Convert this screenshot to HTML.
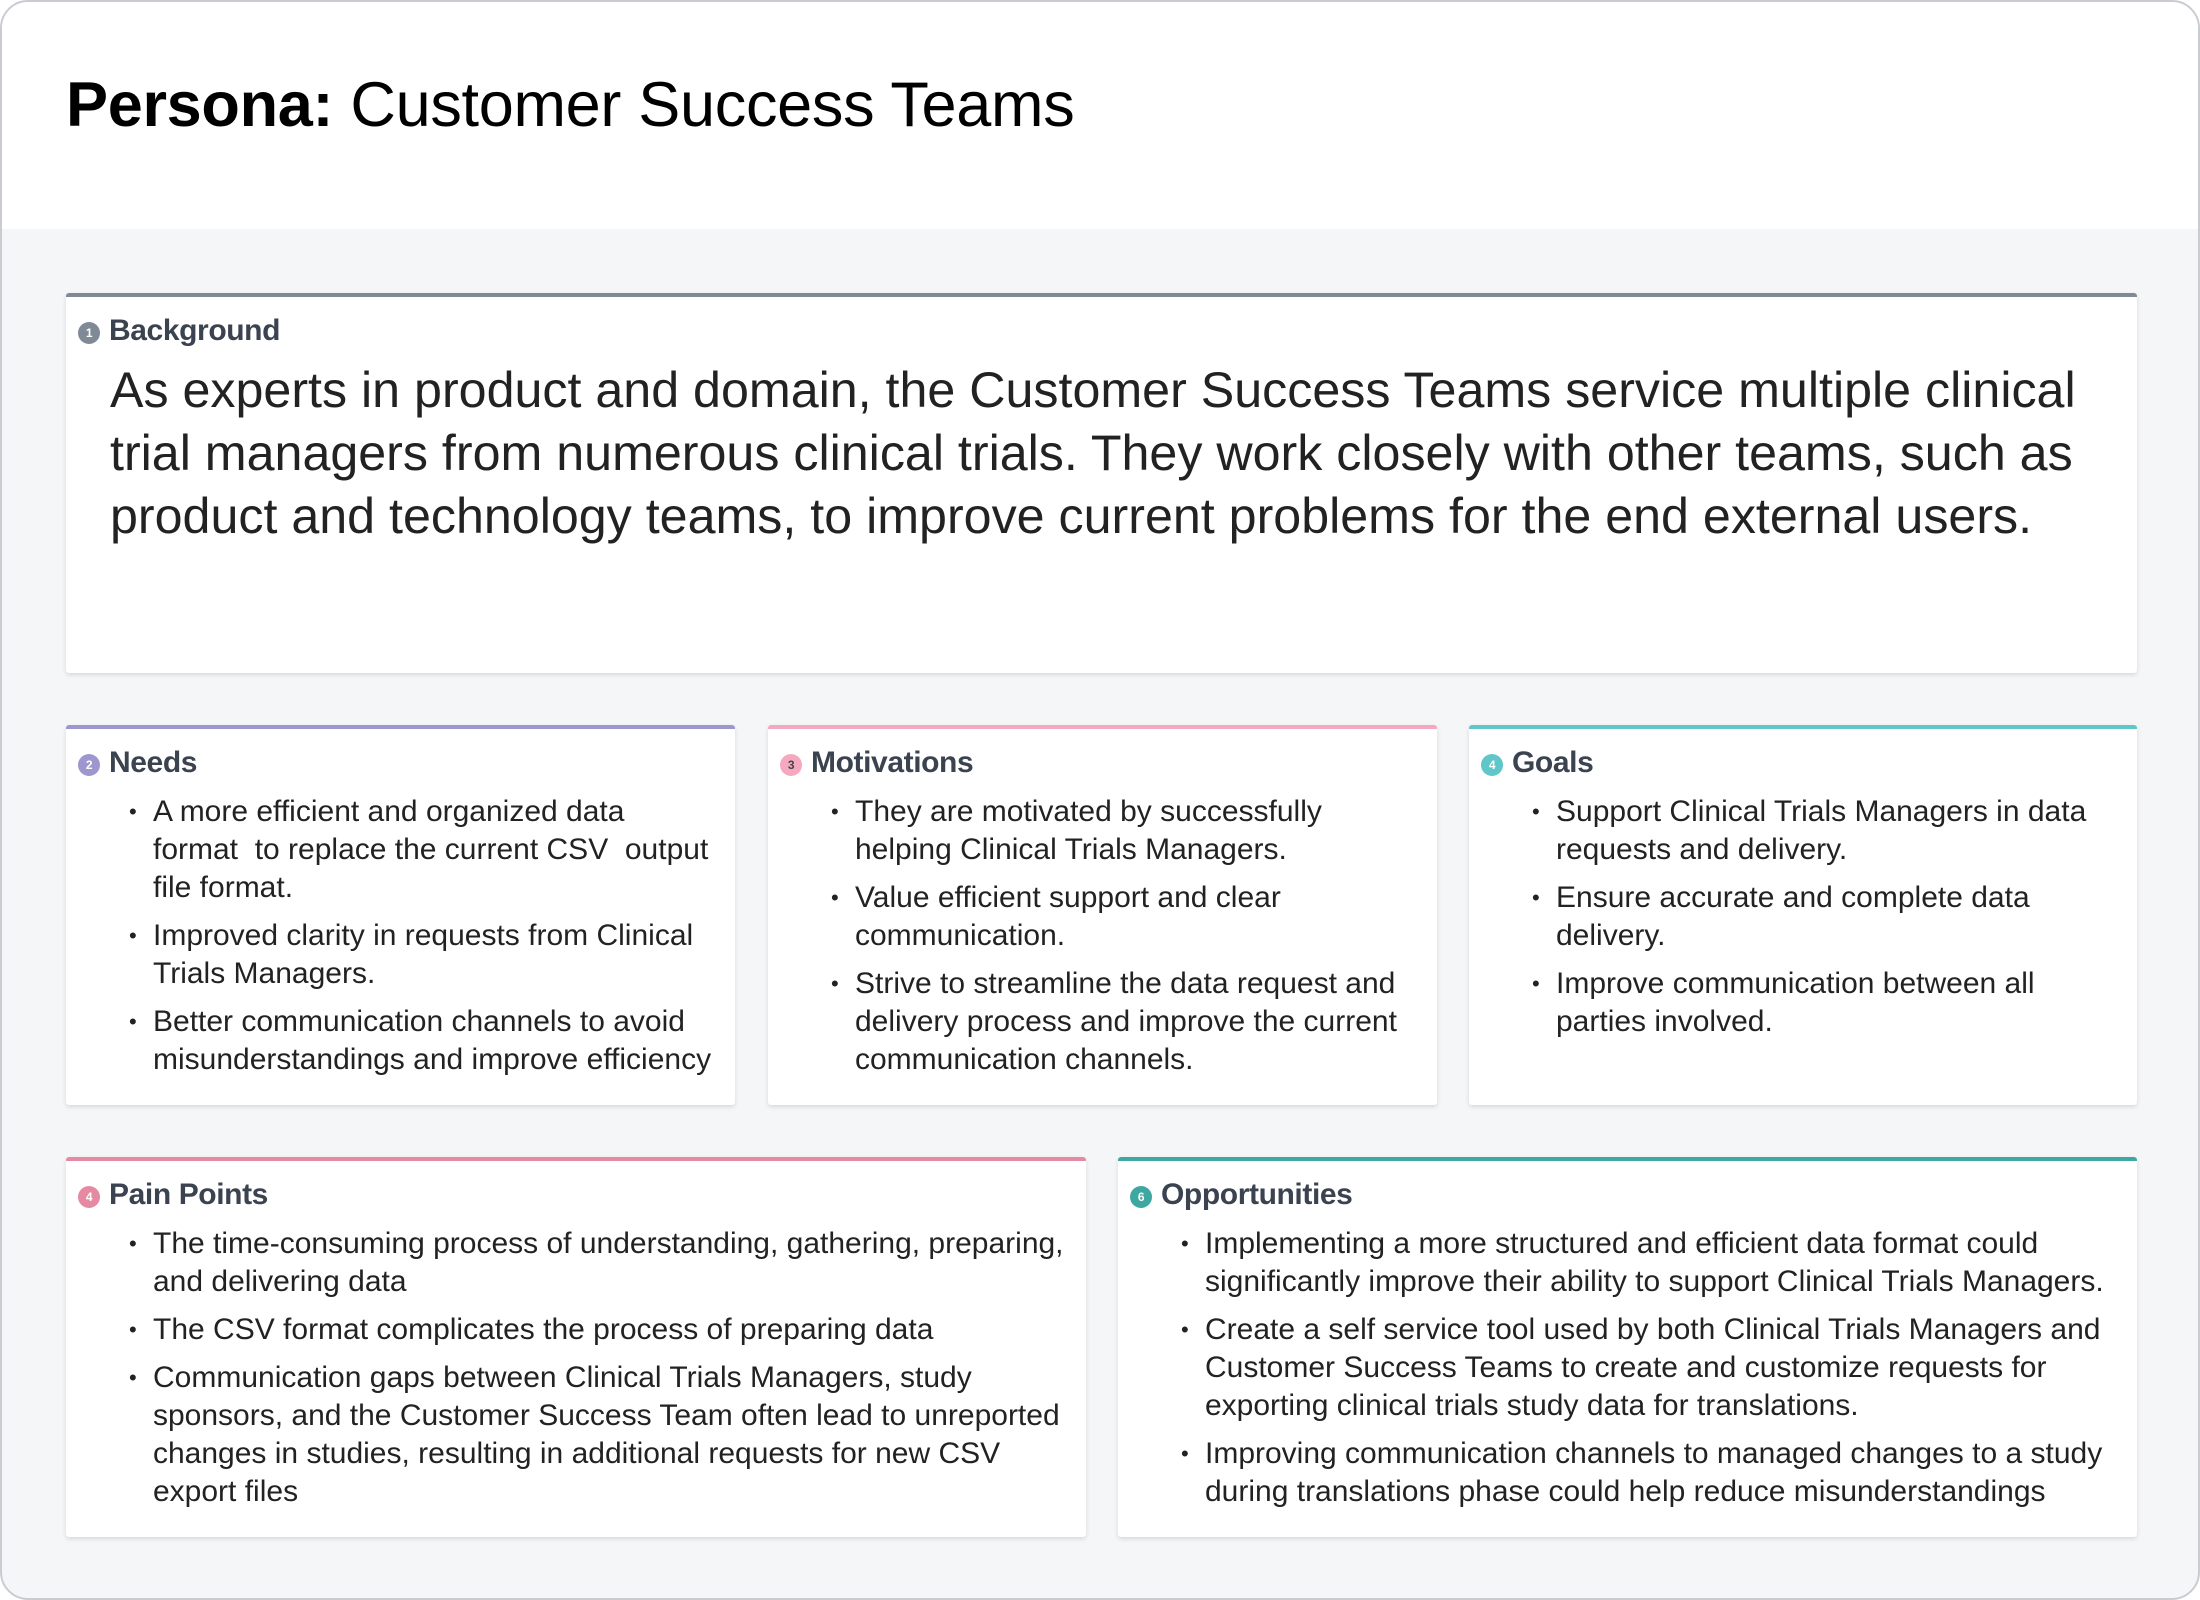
<!DOCTYPE html>
<html><head><meta charset="utf-8"><style>
*{margin:0;padding:0;box-sizing:border-box}
html,body{width:2200px;height:1600px;background:#fff;overflow:hidden}
body{font-family:"Liberation Sans",Arial,sans-serif;color:#1f2328;position:relative}
.frame{position:absolute;left:0;top:0;width:2200px;height:1600px;border:2px solid #c9ccd1;border-radius:28px;overflow:hidden;background:#f5f6f8}
.head{position:absolute;left:0;top:0;width:2200px;height:227px;background:#fff}
.title{position:absolute;left:64px;top:67px;font-size:63px;white-space:nowrap;letter-spacing:-0.3px;color:#000}
.card{position:absolute;background:#fff;box-shadow:0 2px 5px rgba(0,0,0,0.12);border-top:4px solid #7f8a96;border-radius:3px}
.h{position:absolute;left:12px;top:17px;font-size:30px;font-weight:bold;color:#3b4350;white-space:nowrap;letter-spacing:-0.4px}
.h i{display:inline-block;width:22px;height:22px;border-radius:50%;font-style:normal;font-size:12px;color:#fff;text-align:center;line-height:22px;vertical-align:3px;margin-right:9px;font-weight:bold}
ul{position:absolute;left:87px;top:64px;list-style:none;font-size:30px;line-height:38px;color:#222;letter-spacing:0px}
li{position:relative;white-space:nowrap;margin-bottom:10px}
li:before{content:"•";position:absolute;left:-24px;font-size:22px}
.bg{position:absolute;left:44px;top:62px;font-size:50.2px;line-height:63px;white-space:nowrap;color:#222;letter-spacing:0px}
</style></head><body>
<div class="frame">
<div class="head"></div>
<div class="title"><b>Persona:</b> Customer Success Teams</div>

<div class="card" style="left:64px;top:291px;width:2071px;height:380px;border-top-color:#7f8a96">
<div class="h"><i style="background:#7f8a96">1</i>Background</div>
<div class="bg">As experts in product and domain, the Customer Success Teams service multiple clinical<br>trial managers from numerous clinical trials. They work closely with other teams, such as<br>product and technology teams, to improve current problems for the end external users.</div>
</div>

<div class="card" style="left:64px;top:723px;width:669px;height:380px;border-top-color:#9e97cf">
<div class="h"><i style="background:#9e97cf">2</i>Needs</div>
<ul><li>A more efficient and organized data<br>format &nbsp;to replace the current CSV &nbsp;output<br>file format.</li><li>Improved clarity in requests from Clinical<br>Trials Managers.</li><li>Better communication channels to avoid<br>misunderstandings and improve efficiency</li></ul>
</div>

<div class="card" style="left:766px;top:723px;width:669px;height:380px;border-top-color:#f5a9c0">
<div class="h"><i style="background:#f5a9c0;color:#444">3</i>Motivations</div>
<ul><li>They are motivated by successfully<br>helping Clinical Trials Managers.</li><li>Value efficient support and clear<br>communication.</li><li>Strive to streamline the data request and<br>delivery process and improve the current<br>communication channels.</li></ul>
</div>

<div class="card" style="left:1467px;top:723px;width:668px;height:380px;border-top-color:#5fc7c7">
<div class="h"><i style="background:#5fc7c7">4</i>Goals</div>
<ul><li>Support Clinical Trials Managers in data<br>requests and delivery.</li><li>Ensure accurate and complete data<br>delivery.</li><li>Improve communication between all<br>parties involved.</li></ul>
</div>

<div class="card" style="left:64px;top:1155px;width:1020px;height:380px;border-top-color:#e68aa4">
<div class="h"><i style="background:#e68aa4">4</i>Pain Points</div>
<ul><li>The time-consuming process of understanding, gathering, preparing,<br>and delivering data</li><li>The CSV format complicates the process of preparing data</li><li>Communication gaps between Clinical Trials Managers, study<br>sponsors, and the Customer Success Team often lead to unreported<br>changes in studies, resulting in additional requests for new CSV<br>export files</li></ul>
</div>

<div class="card" style="left:1116px;top:1155px;width:1019px;height:380px;border-top-color:#3fa7a1">
<div class="h"><i style="background:#3fa7a1">6</i>Opportunities</div>
<ul><li>Implementing a more structured and efficient data format could<br>significantly improve their ability to support Clinical Trials Managers.</li><li>Create a self service tool used by both Clinical Trials Managers and<br>Customer Success Teams to create and customize requests for<br>exporting clinical trials study data for translations.</li><li>Improving communication channels to managed changes to a study<br>during translations phase could help reduce misunderstandings</li></ul>
</div>
</div>
</body></html>
